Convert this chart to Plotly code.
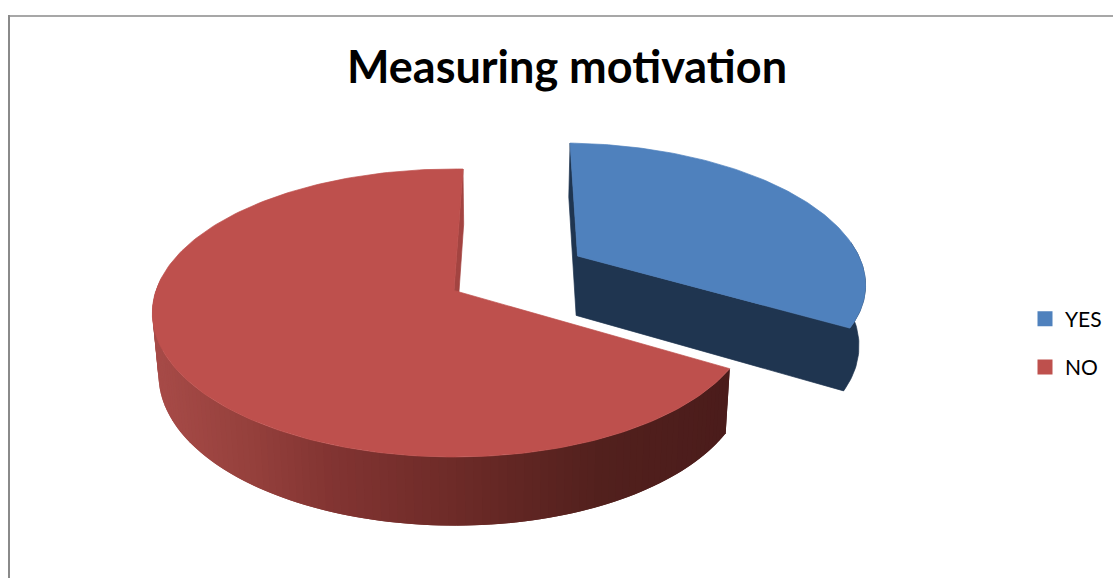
import math
import plotly.graph_objects as go

# Data
categories = ["YES", "NO"]
values = [33, 67]
colors = ["#4F81BD", "#BE504D"]
title_text = "Measuring motivation"

# Projection of the tilted pie onto the pixel-based axes
CX, CY, RX, RY, K = 454.0, 290.5, 298.0, 140.5, 0.156
START_DEG = 88.0   # first slice begins here and runs clockwise
EXPLODE = 0.5025   # exploded distance of first slice, in radii
EXPLODE_ADJ = 1.9
WALL = 61.0
BLUE_DARK = "#1F3550"
RED_FACE = "#A34441"
RED_STOPS = [(160, (166, 74, 71)), (250, (149, 64, 60)), (330, (130, 52, 50)),
             (450, (110, 43, 40)), (600, (82, 32, 29)), (725, (75, 28, 27))]


def top(u, v):
    w = 1 - K * v
    s = 1 - 0.01 * max(u, 0)
    return CX + RX * u * s / w, CY + RY * v / w


def bottom(u, v):
    w = 1 - K * v
    x, y = top(u, v)
    return x - 0.018 * (x - 500), y + WALL * w ** -0.7


def rim(a_deg, ou=0.0, ov=0.0):
    a = math.radians(a_deg)
    # v grows towards the viewer, i.e. down the screen
    return ou + math.cos(a), ov - math.sin(a)


def poly(points, color, lw=0.7):
    xs = [p[0] for p in points] + [points[0][0]]
    ys = [p[1] for p in points] + [points[0][1]]
    return go.Scatter(x=xs, y=ys, mode="lines", fill="toself", fillcolor=color,
                      line=dict(color=color, width=lw), hoverinfo="skip", showlegend=False)


def arc(a0, a1, n):
    return [a0 + (a1 - a0) * i / n for i in range(n + 1)]


def red_shade(x):
    if x <= RED_STOPS[0][0]:
        c = RED_STOPS[0][1]
    elif x >= RED_STOPS[-1][0]:
        c = RED_STOPS[-1][1]
    else:
        for (x0, c0), (x1, c1) in zip(RED_STOPS, RED_STOPS[1:]):
            if x0 <= x <= x1:
                t = (x - x0) / (x1 - x0)
                c = tuple(c0[i] + (c1[i] - c0[i]) * t for i in range(3))
                break
    return "rgb(%d,%d,%d)" % tuple(round(v) for v in c)


total = sum(values)
blue_sweep = values[0] / total * 360
blue_a0, blue_a1 = START_DEG, START_DEG - blue_sweep
red_a0, red_a1 = blue_a1 + 360, START_DEG
mid = math.radians((blue_a0 + blue_a1) / 2 + EXPLODE_ADJ)
ou, ov = EXPLODE * math.cos(mid), -EXPLODE * math.sin(mid)

fig = go.Figure()

# Blue slice: one dark body (both cut faces and the outer wall), then the top
b_far = rim(blue_a0, ou, ov)
b_apex = (ou, ov)
wall_angles = arc(blue_a1, 6, 40)
fig.add_trace(poly(
    [top(*b_far), bottom(*b_far), bottom(*b_apex)]
    + [bottom(*rim(a, ou, ov)) for a in wall_angles]
    + [top(*rim(a, ou, ov)) for a in reversed(wall_angles)]
    + [top(*b_apex)],
    BLUE_DARK))
fig.add_trace(poly([top(*b_apex)] + [top(*rim(a, ou, ov)) for a in arc(blue_a0, blue_a1, 120)], colors[0]))

# Red slice: cut face visible at the back, outer wall, then top
r_far = rim(red_a1)
fig.add_trace(poly([top(*r_far), bottom(*r_far), bottom(0, 0), top(0, 0)], RED_FACE))
segs = arc(175, red_a0, 110)
step = segs[1] - segs[0]
for a0, a1 in zip(segs, segs[1:]):
    # each band runs under the next one, so no seams show between them
    a_end = min(a1 + step, red_a0)
    p = [top(*rim(a0)), top(*rim(a_end)), bottom(*rim(a_end)), bottom(*rim(a0))]
    fig.add_trace(poly(p, red_shade((top(*rim(a0))[0] + top(*rim(a1))[0]) / 2), lw=0))
fig.add_trace(poly([top(0, 0)] + [top(*rim(a)) for a in arc(red_a1, red_a0, 200)], colors[1]))

# Legend entries
for name, color in zip(categories, colors):
    fig.add_trace(go.Scatter(x=[None], y=[None], mode="markers", name=name, legendgroup=name,
                             marker=dict(symbol="square", size=15, color=color, line=dict(width=0))))

fig.update_layout(
    width=1113, height=578, autosize=False,
    margin=dict(l=0, r=0, t=0, b=0),
    paper_bgcolor="white", plot_bgcolor="white",
    xaxis=dict(range=[0, 1113], visible=False, fixedrange=True),
    yaxis=dict(range=[578, 0], visible=False, fixedrange=True),
    title=dict(text="<b>" + title_text + "</b>", x=567 / 1113, xanchor="center",
               y=1 - 67 / 578, yanchor="middle",
               font=dict(family="Lato", size=45, color="black")),
    legend=dict(x=1025 / 1113, xanchor="left", y=1 - 343 / 578, yanchor="middle",
                font=dict(family="Lato", size=21, color="black"),
                traceorder="grouped", tracegroupgap=18, itemwidth=30,
                bgcolor="rgba(0,0,0,0)"),
    hovermode=False,
    shapes=[
        dict(type="line", xref="x", yref="y", x0=9, x1=9, y0=15, y1=578, line=dict(color="#8A8A8A", width=2)),
        dict(type="line", xref="x", yref="y", x0=8, x1=1113, y0=16, y1=16, line=dict(color="#8A8A8A", width=1.5)),
    ],
)

fig.write_html("out.html", config={"displayModeBar": False},
               post_script="document.body.style.margin='0';document.body.style.overflow='hidden';")
